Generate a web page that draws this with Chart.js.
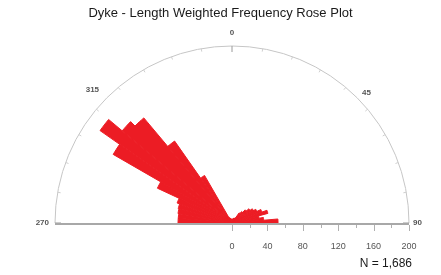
<!DOCTYPE html>
<html>
<head>
<meta charset="utf-8">
<script src="https://cdn.jsdelivr.net/npm/chart.js@4/dist/chart.umd.min.js"></script>
<style>
  html, body { margin: 0; padding: 0; background: #fff; }
  canvas { display: block; }
</style>
</head>
<body>
<canvas id="rose" width="441" height="275"></canvas>
<script>
// 5 degree bins, clockwise from 270 (west) through 0 (north) to 90 (east)
const binStart = ['270', '275', '280', '285', '290', '295', '300', '305', '310', '315', '320', '325',
                  '330', '335', '340', '345', '350', '355', '0', '5', '10', '15', '20', '25',
                  '30', '35', '40', '45', '50', '55', '60', '65', '70', '75', '80', '85'];
const weightedFreq = [61, 61, 62, 63, 66, 93, 155, 182, 162, 155, 113, 62,
                      7, 6, 5, 5, 4, 4, 4, 4, 5, 5, 6, 6,
                      7, 14, 17, 21, 25, 28, 31, 36, 42, 31, 36, 52];
const binWidth = 5;
const radialTicks = [0, 40, 80, 120, 160, 200];
const rimAngles = [270, 315, 0, 45, 90];
const rimLabels = ['270', '315', '0', '45', '90'];
const sampleCount = 'N = 1,686';

const FONT = "'Liberation Sans', Arial, sans-serif";
const RED = '#ec1c24';

const roseFrame = {
  id: 'roseFrame',
  afterDatasetsDraw(chart) {
    const sc = chart.scales.r;
    const ctx = chart.ctx;
    const cx = sc.xCenter, cy = sc.yCenter;
    const R = sc.getDistanceFromCenterForValue(radialTicks[radialTicks.length - 1]);
    const pt = (deg, rad) => {
      const a = deg * Math.PI / 180;
      return [cx + rad * Math.sin(a), cy - rad * Math.cos(a)];
    };
    ctx.save();

    // rim
    ctx.strokeStyle = '#c6c6c6';
    ctx.lineWidth = 1;
    ctx.beginPath();
    ctx.arc(cx, cy, R, Math.PI, 2 * Math.PI);
    ctx.stroke();

    // small rim ticks every 10 deg, bigger ones at labelled angles
    for (let d = -90; d <= 90; d += 10) {
      const major = d % 45 === 0;
      const [x1, y1] = pt(d, R);
      const [x2, y2] = pt(d, R - (major ? 6 : 3));
      ctx.strokeStyle = major ? '#9a9a9a' : '#cfcfcf';
      ctx.beginPath();
      ctx.moveTo(x1, y1);
      ctx.lineTo(x2, y2);
      ctx.stroke();
    }

    // baseline
    ctx.strokeStyle = '#a8a8a8';
    ctx.lineWidth = 2;
    ctx.beginPath();
    ctx.moveTo(cx - R, cy + 1);
    ctx.lineTo(cx + R, cy + 1);
    ctx.stroke();

    // radial axis ticks and labels along the east half of the baseline
    ctx.lineWidth = 1;
    ctx.strokeStyle = '#b0b0b0';
    ctx.fillStyle = '#555';
    ctx.font = '9px ' + FONT;
    ctx.textAlign = 'center';
    ctx.textBaseline = 'middle';
    radialTicks.forEach((v, i) => {
      const x = cx + sc.getDistanceFromCenterForValue(v);
      ctx.beginPath();
      ctx.moveTo(Math.round(x) + 0.5, cy + 2);
      ctx.lineTo(Math.round(x) + 0.5, cy + 8);
      ctx.stroke();
      if (i > 0) {
        const xm = cx + sc.getDistanceFromCenterForValue((v + radialTicks[i - 1]) / 2);
        ctx.beginPath();
        ctx.moveTo(Math.round(xm) + 0.5, cy + 2);
        ctx.lineTo(Math.round(xm) + 0.5, cy + 5);
        ctx.stroke();
      }
      ctx.fillText(String(v), x, cy + 24);
    });

    // compass labels
    ctx.font = 'bold 8px ' + FONT;
    ctx.fillStyle = '#555';
    rimAngles.forEach((d, i) => {
      const s = Math.sin(d * Math.PI / 180);
      let off = 13, align = 'center';
      if (s < -0.9) { align = 'right'; off = 6; }
      else if (s > 0.9) { align = 'left'; off = 4; }
      else if (s < -0.5) { align = 'right'; off = 11; }
      else if (s > 0.5) { align = 'left'; off = 7; }
      const [x, y] = pt(d, R + off);
      ctx.textAlign = align;
      ctx.fillText(rimLabels[i], x, y);
    });

    // sample size
    ctx.font = '12px ' + FONT;
    ctx.fillStyle = '#1a1a1a';
    ctx.textAlign = 'right';
    ctx.fillText(sampleCount, cx + R + 3, cy + 41);

    ctx.restore();
  }
};

new Chart(document.getElementById('rose'), {
  type: 'polarArea',
  data: {
    labels: binStart,
    datasets: [{
      label: 'Length weighted frequency',
      data: weightedFreq,
      angle: binWidth,
      backgroundColor: RED,
      borderColor: RED,
      borderWidth: 1,
      borderAlign: 'center',
      offset: 0,
      spacing: 0,
      hoverOffset: 0
    }]
  },
  options: {
    responsive: false,
    animation: false,
    devicePixelRatio: 1,
    layout: { padding: 0 },
    elements: { arc: { borderWidth: 1, borderColor: RED, offset: 0, spacing: 0 } },
    scales: {
      r: {
        min: 0,
        max: 200,
        startAngle: 270,
        grid: { display: false },
        angleLines: { display: false },
        pointLabels: { display: false },
        ticks: { display: false },
        afterFit(scale) {
          scale.xCenter = 232;
          scale.yCenter = 223;
          scale.drawingArea = 177;
        }
      }
    },
    plugins: {
      legend: { display: false },
      tooltip: { enabled: false },
      title: {
        display: true,
        text: 'Dyke - Length Weighted Frequency Rose Plot',
        color: '#1a1a1a',
        font: { family: FONT, size: 13, weight: 'normal' },
        padding: { top: 6, bottom: 0 }
      }
    }
  },
  plugins: [roseFrame]
});
</script>
</body>
</html>
